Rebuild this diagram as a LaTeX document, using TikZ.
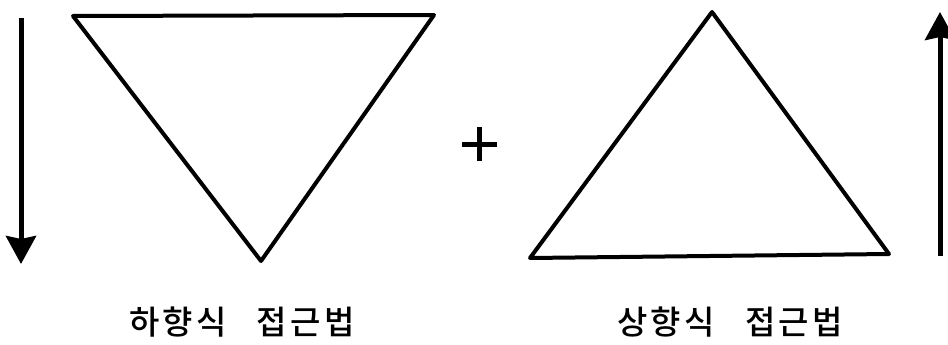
\documentclass[tikz,border=0pt]{standalone}
\usepackage{fontspec}
\usetikzlibrary{arrows.meta}
\newfontfamily\kor[LetterSpace=10]{Noto Sans CJK KR Medium}

\tikzset{
  tri/.style={line width=4pt, line join=round},
  flow/.style={line width=5pt, -{Stealth[length=28pt,width=30pt,inset=3pt]}},
  lbl/.style={font=\kor\fontsize{33}{38}\selectfont, inner sep=0pt}
}

\begin{document}
\begin{tikzpicture}[x=1pt,y=-1pt]
    \useasboundingbox (0,0) rectangle (948,345);

    % top-down
    \coordinate (dtop) at (21,18);
    \coordinate (dbot) at (21,264);
    \draw[flow] (dtop) -- (dbot);

    \coordinate (a1) at (73,16);
    \coordinate (a2) at (434,15);
    \coordinate (a3) at (261,261);
    \draw[tri] (a1) -- (a2) -- (a3) -- cycle;

    % plus
    \coordinate (pl) at (462,144);
    \coordinate (pr) at (497,144);
    \coordinate (pt) at (479,127);
    \coordinate (pb) at (479,161);
    \draw[line width=5pt] (pl) -- (pr) (pt) -- (pb);

    % bottom-up
    \coordinate (b1) at (712,12);
    \coordinate (b2) at (889,254);
    \coordinate (b3) at (530,258);
    \draw[tri] (b1) -- (b2) -- (b3) -- cycle;

    \coordinate (ubot) at (940,256);
    \coordinate (utop) at (940,12);
    \draw[flow] (ubot) -- (utop);

    \node[lbl] (down) at (242,322) {하향식\hspace{30pt}접근법};
    \node[lbl] (up) at (730,322) {상향식\hspace{30pt}접근법};
\end{tikzpicture}
\end{document}
